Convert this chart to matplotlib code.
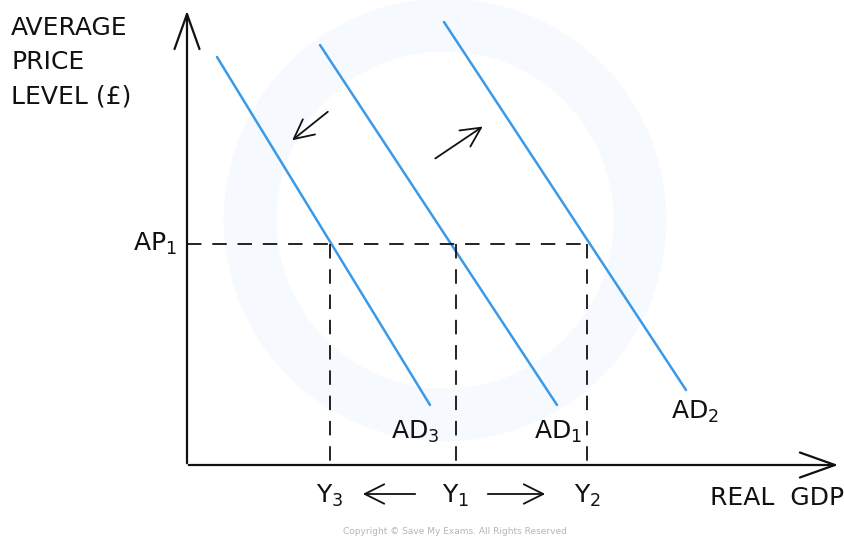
import matplotlib
matplotlib.use("Agg")
from matplotlib import pyplot as plt
from matplotlib.patches import Circle

plt.rcParams["font.family"] = ["DejaVu Sans"]
plt.rcParams["mathtext.default"] = "regular"

# curve end points (x = real GDP, y = price level), origin at the axes corner
ad3_x = [30, 243]
ad3_y = [408, 60]
ad1_x = [133, 370]
ad1_y = [420, 60]
ad2_x = [257, 499]
ad2_y = [443, 75]
ap1 = 221
y_levels = [143, 269, 400]
y_names = ["Y$_3$", "Y$_1$", "Y$_2$"]
blue = "#3b9ae8"
ink = "#111111"

fig = plt.figure(figsize=(8.44, 5.39), dpi=100)
ax = fig.add_axes([0, 0, 1, 1])
ax.set_xlim(-187, 657)
ax.set_ylim(-74, 465)
ax.axis("off")

# faint watermark
ax.add_patch(Circle((258, 245), 195, fill=False, lw=38, color="#f6f9fe", zorder=0))

# axes with arrows
head = dict(arrowstyle="->,head_length=1.4,head_width=0.5", lw=1.6, color=ink,
            mutation_scale=18)
ax.annotate("", xy=(0, 457), xytext=(0, -1), arrowprops=head)
ax.annotate("", xy=(654, 0), xytext=(-1, 0), arrowprops=head)

# AD curves
for xs, ys in [(ad3_x, ad3_y), (ad1_x, ad1_y), (ad2_x, ad2_y)]:
    ax.plot(xs, ys, color=blue, lw=1.8, solid_capstyle="round")

# dashed guides
ax.plot([0, y_levels[-1]], [ap1, ap1], color=ink, lw=1.3, dashes=(8, 6))
for yv in y_levels:
    ax.plot([yv, yv], [ap1, 0], color=ink, lw=1.3, dashes=(8, 6))

fs = 18
ax.text(-176, 449, "AVERAGE\nPRICE\nLEVEL (£)", fontsize=fs, va="top", ha="left",
        linespacing=1.55, color=ink)
ax.text(-10, ap1, "AP$_1$", fontsize=fs, va="center", ha="right", color=ink)

ax.text(228, 33, "AD$_3$", fontsize=fs, va="center", ha="center", color=ink)
ax.text(371, 33, "AD$_1$", fontsize=fs, va="center", ha="center", color=ink)
ax.text(508, 53, "AD$_2$", fontsize=fs, va="center", ha="center", color=ink)

for yv, nm in zip(y_levels, y_names):
    ax.text(yv, -31, nm, fontsize=fs, va="center", ha="center", color=ink)
ax.text(657, -33, "REAL  GDP", fontsize=fs, va="center", ha="right", color=ink)

# shift arrows
arrow = dict(arrowstyle="->,head_length=0.7,head_width=0.35", lw=1.3,
             color=ink, mutation_scale=20)
ax.annotate("", xy=(173, -29), xytext=(231, -29), arrowprops=arrow)
ax.annotate("", xy=(361, -29), xytext=(298, -29), arrowprops=arrow)
ax.annotate("", xy=(103, 323), xytext=(143, 355), arrowprops=arrow)
ax.annotate("", xy=(298, 340), xytext=(246, 305), arrowprops=arrow)

ax.text(268, -67, "Copyright © Save My Exams. All Rights Reserved", fontsize=6.5,
        ha="center", va="center", color="#b5b5b5")

fig.savefig("out.png", dpi=100)
